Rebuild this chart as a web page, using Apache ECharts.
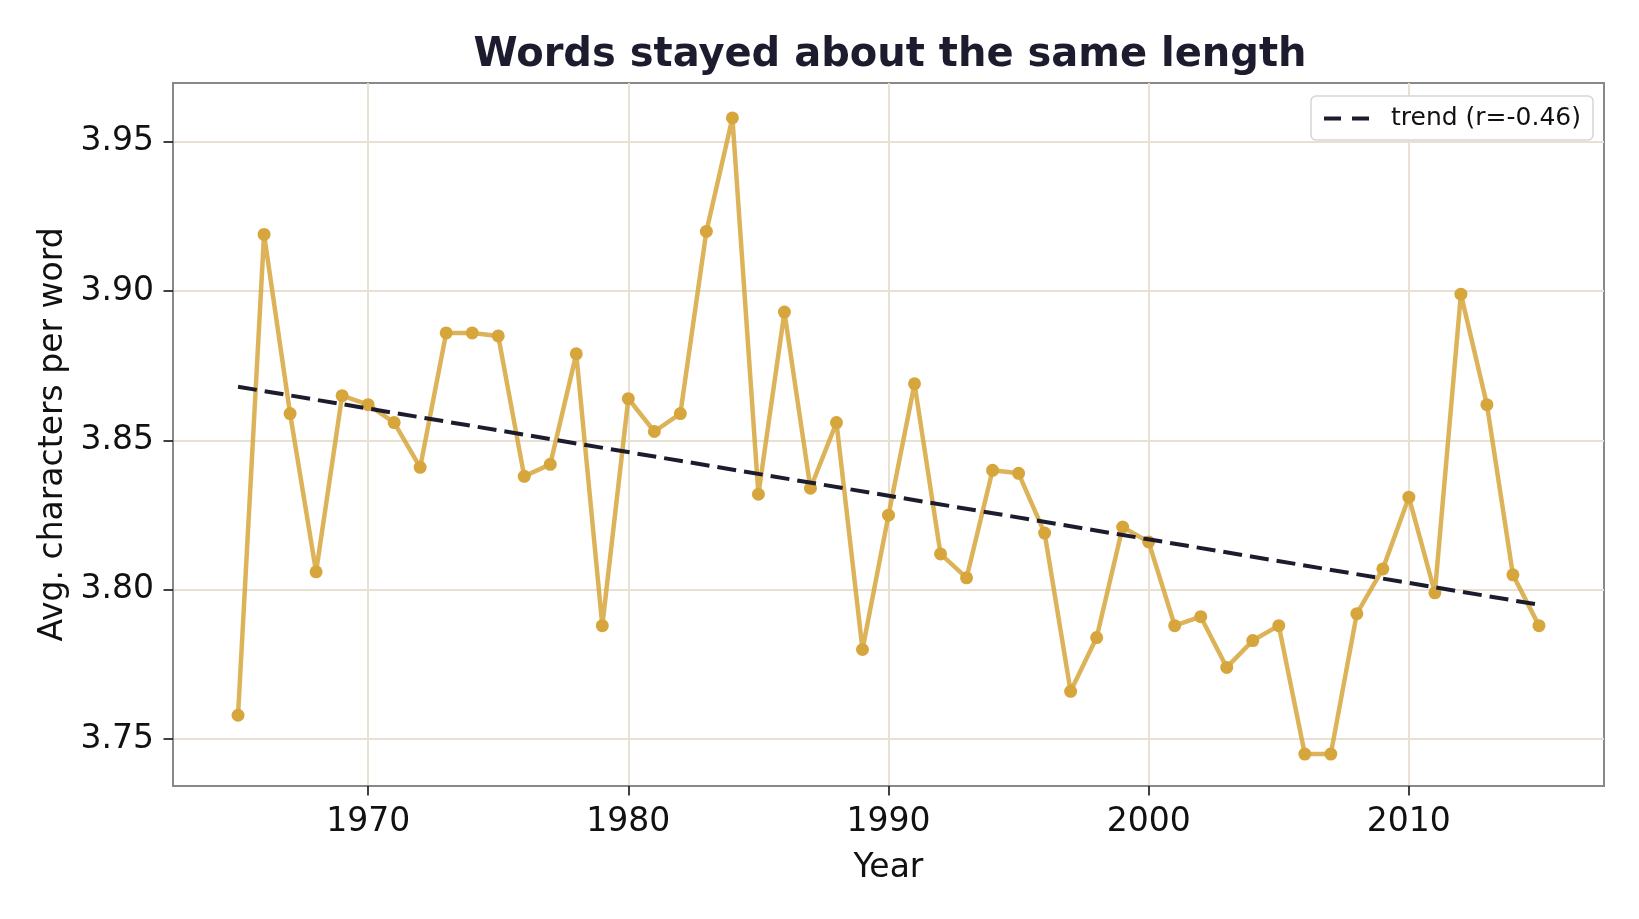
<!DOCTYPE html>
<html>
<head>
<meta charset="utf-8">
<title>Words stayed about the same length</title>
<script src="https://cdn.jsdelivr.net/npm/echarts@6/dist/echarts.min.js"></script>
<style>
  html, body { margin: 0; padding: 0; background: #fff; }
  #chart { width: 1639px; height: 919px; }
</style>
</head>
<body>
<div id="chart"></div>
<script>
// data
const years = [
  1965, 1966, 1967, 1968, 1969, 1970, 1971, 1972, 1973, 1974,
  1975, 1976, 1977, 1978, 1979, 1980, 1981, 1982, 1983, 1984,
  1985, 1986, 1987, 1988, 1989, 1990, 1991, 1992, 1993, 1994,
  1995, 1996, 1997, 1998, 1999, 2000, 2001, 2002, 2003, 2004,
  2005, 2006, 2007, 2008, 2009, 2010, 2011, 2012, 2013, 2014, 2015
]
const avgChars = [
  3.758, 3.919, 3.859, 3.806, 3.865, 3.862, 3.856, 3.841, 3.886, 3.886,
  3.885, 3.838, 3.842, 3.879, 3.788, 3.864, 3.853, 3.859, 3.920, 3.958,
  3.832, 3.893, 3.834, 3.856, 3.780, 3.825, 3.869, 3.812, 3.804, 3.840,
  3.839, 3.819, 3.766, 3.784, 3.821, 3.816, 3.788, 3.791, 3.774, 3.783,
  3.788, 3.745, 3.745, 3.792, 3.807, 3.831, 3.799, 3.899, 3.862, 3.805, 3.788
]
const trendYears = [1965, 2015]
const trendValues = [3.868, 3.795]
const trendName = 'trend (r=-0.46)'
const xTicks = [1970, 1980, 1990, 2000, 2010]
const yTicks = [3.75, 3.80, 3.85, 3.90, 3.95]

const mainData = years.map((y, i) => [y, avgChars[i]])
const trendData = trendYears.map((y, i) => [y, trendValues[i]])

const chart = echarts.init(document.getElementById('chart'))
const font = 'DejaVu Sans'

chart.setOption({
  animation: false,
  backgroundColor: '#fff',
  title: {
    text: 'Words stayed about the same length',
    left: 885,
    textAlign: 'center',
    top: 31,
    textStyle: {
      fontFamily: font,
      fontWeight: 'bold',
      fontSize: 40,
      color: '#1c1c2e'
    }
  },
  grid: {
    left: 173,
    right: 35,
    top: 83,
    bottom: 133,
    show: true,
    borderColor: '#888',
    borderWidth: 2,
    backgroundColor: 'transparent'
  },
  legend: {
    data: [trendName],
    left: 1311,
    top: 96,
    padding: [10, 12, 9, 11],
    itemWidth: 45,
    itemHeight: 12,
    backgroundColor: '#fff',
    borderColor: '#d6d6d6',
    borderWidth: 1.5,
    borderRadius: 5,
    itemStyle: { opacity: 0 },
    lineStyle: { color: '#1c1c2e', width: 4, type: [17, 11] },
    textStyle: {
      fontFamily: font,
      fontSize: 25,
      color: '#111',
      padding: [3, 0, 0, 17]
    }
  },
  xAxis: {
    type: 'value',
    min: 1962.5,
    max: 2017.5,
    name: 'Year',
    nameLocation: 'middle',
    nameGap: 66,
    nameTextStyle: { fontFamily: font, fontSize: 33, color: '#111' },
    axisLine: { show: true, lineStyle: { color: '#888', width: 2 } },
    axisTick: {
      show: true,
      length: 9.5,
      customValues: xTicks,
      lineStyle: { color: '#111', width: 1.6 }
    },
    axisLabel: {
      customValues: xTicks,
      margin: 20,
      fontFamily: font,
      fontSize: 33,
      color: '#111',
      formatter: v => String(v)
    },
    splitLine: { show: true, lineStyle: { color: '#e8e1d3', width: 2 } }
  },
  yAxis: {
    type: 'value',
    min: 3.7343,
    max: 3.9697,
    name: 'Avg. characters per word',
    nameLocation: 'middle',
    nameGap: 103,
    nameTextStyle: { fontFamily: font, fontSize: 33, color: '#111' },
    axisLine: { show: true, lineStyle: { color: '#888', width: 2 } },
    axisTick: {
      show: true,
      length: 9.5,
      customValues: yTicks,
      lineStyle: { color: '#111', width: 1.6 }
    },
    axisLabel: {
      customValues: yTicks,
      margin: 19,
      fontFamily: font,
      fontSize: 33,
      color: '#111',
      formatter: v => v.toFixed(2)
    },
    splitLine: { show: true, lineStyle: { color: '#e8e1d3', width: 2 } }
  },
  series: [
    {
      name: 'avg',
      type: 'line',
      data: mainData,
      symbol: 'circle',
      symbolSize: 13,
      z: 2,
      itemStyle: { color: '#d6a63c' },
      lineStyle: { color: 'rgba(214,166,60,0.85)', width: 4.5 }
    },
    {
      name: trendName,
      type: 'line',
      data: trendData,
      symbol: 'none',
      z: 3,
      itemStyle: { color: '#1c1c2e' },
      lineStyle: { color: '#1c1c2e', width: 4, type: [19, 8] }
    }
  ]
})
</script>
</body>
</html>
